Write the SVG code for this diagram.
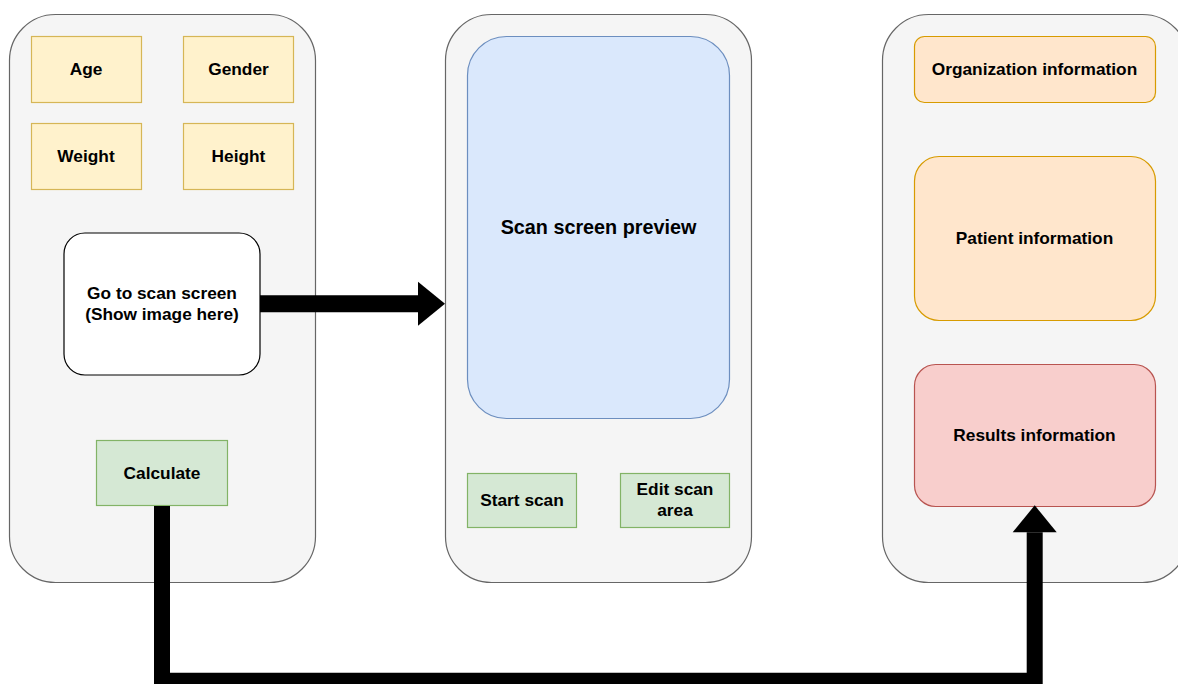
<svg xmlns="http://www.w3.org/2000/svg" width="1178" height="684" viewBox="0 0 1178 684">
  <defs>
    <marker id="head" markerUnits="userSpaceOnUse" markerWidth="27" markerHeight="44" viewBox="0 0 27 44" refX="0" refY="22" orient="auto" overflow="visible">
      <path d="M0,0 L27,22 L0,44 Z" fill="#000"/>
    </marker>
    <style>
      .panel { fill: #f5f5f5; stroke: #666666; stroke-width: 1.2; }
      .yellow { fill: #fff2cc; stroke: #d6b656; stroke-width: 1.2; }
      .green { fill: #d5e8d4; stroke: #82b366; stroke-width: 1.2; }
      .blue { fill: #dae8fc; stroke: #6c8ebf; stroke-width: 1.2; }
      .orange { fill: #ffe6cc; stroke: #d79b00; stroke-width: 1.2; }
      .red { fill: #f8cecc; stroke: #b85450; stroke-width: 1.2; }
      .white { fill: #ffffff; stroke: #000000; stroke-width: 1.2; }
      .lbl { font-family: "Liberation Sans", Arial, sans-serif; font-weight: bold; font-size: 17.3px; fill: #000; text-anchor: middle; }
      .big { font-size: 19.8px; }
      .wire { fill: none; stroke: #000; stroke-linejoin: miter; stroke-linecap: butt; }
    </style>
  </defs>

  <rect width="1178" height="684" fill="#ffffff"/>

  <!-- screen frames -->
  <g id="panel-input"><rect class="panel" x="9.5" y="14.5" width="306" height="568" rx="46"/></g>
  <g id="panel-scan"><rect class="panel" x="445.5" y="14.5" width="306" height="568" rx="46"/></g>
  <g id="panel-results"><rect class="panel" x="882.5" y="14.5" width="306" height="568" rx="46"/></g>

  <!-- input screen -->
  <g id="age"><rect class="yellow" x="31.5" y="36.5" width="110" height="66"/><text class="lbl" x="86" y="75">Age</text></g>
  <g id="gender"><rect class="yellow" x="183.5" y="36.5" width="110" height="66"/><text class="lbl" x="238.5" y="75">Gender</text></g>
  <g id="weight"><rect class="yellow" x="31.5" y="123.5" width="110" height="66"/><text class="lbl" x="86" y="162">Weight</text></g>
  <g id="height"><rect class="yellow" x="183.5" y="123.5" width="110" height="66"/><text class="lbl" x="238.5" y="162">Height</text></g>
  <g id="go-to-scan"><rect class="white" x="64" y="233" width="196" height="142" rx="21"/>
    <text class="lbl" x="162" y="298.5">Go to scan screen</text>
    <text class="lbl" x="162" y="320">(Show image here)</text></g>
  <g id="calculate"><rect class="green" x="96.5" y="440.5" width="131" height="65"/><text class="lbl" x="162" y="478.5">Calculate</text></g>

  <!-- scan screen -->
  <g id="scan-preview"><rect class="blue" x="467.5" y="36.5" width="262" height="382" rx="39"/><text class="lbl big" x="598.5" y="233.5">Scan screen preview</text></g>
  <g id="start-scan"><rect class="green" x="467.5" y="473.5" width="109" height="54"/><text class="lbl" x="522" y="505.5">Start scan</text></g>
  <g id="edit-scan-area"><rect class="green" x="620.5" y="473.5" width="109" height="54"/>
    <text class="lbl" x="675" y="495">Edit scan</text>
    <text class="lbl" x="675" y="516">area</text></g>

  <!-- results screen -->
  <g id="organization"><rect class="orange" x="914.5" y="36.5" width="241" height="66" rx="10"/><text class="lbl" x="1034.5" y="75">Organization information</text></g>
  <g id="patient"><rect class="orange" x="914.5" y="156.5" width="241" height="164" rx="24.6"/><text class="lbl" x="1034.5" y="243.5">Patient information</text></g>
  <g id="results"><rect class="red" x="914.5" y="364.5" width="241" height="142" rx="21.3"/><text class="lbl" x="1034.5" y="440.5">Results information</text></g>

  <!-- connectors -->
  <g id="connectors">
    <path class="wire" d="M260,303.7 H418" stroke-width="17" marker-end="url(#head)"/>
    <path class="wire" d="M162,506 V680.7 H1034.7 V532.3" stroke-width="16" marker-end="url(#head)"/>
  </g>
</svg>
